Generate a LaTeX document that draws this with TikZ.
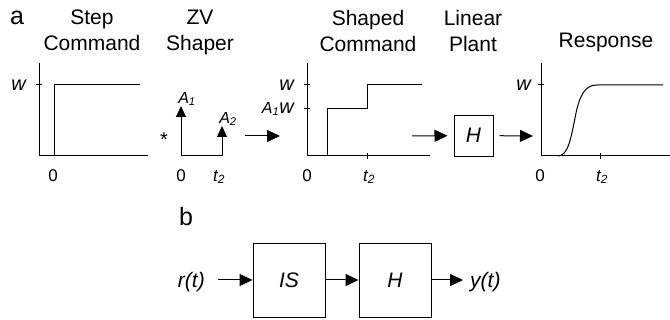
\documentclass[tikz,border=0pt]{standalone}
\usepackage{fontspec}
\setmainfont{Liberation Sans}
\usetikzlibrary{arrows.meta}

\tikzset{
  curve/.style={line width=1pt},
  tic/.style={line width=1pt},
  ttl/.style={font=\fontsize{21}{26}\selectfont, align=center, anchor=north, inner sep=0pt},
  num/.style={font=\fontsize{17}{17}\selectfont, inner sep=0pt},
  ital/.style={font=\fontsize{17}{17}\selectfont\itshape, inner sep=0pt},
  wlbl/.style={font=\fontsize{20}{20}\selectfont\itshape, anchor=east, inner sep=0pt},
  imp/.style={line width=1pt, -{Triangle[length=11pt,width=10pt]}},
  flow/.style={line width=1pt, -{Triangle[length=13pt,width=12pt]}},
  blk/.style={draw, line width=0.9pt, font=\fontsize{21}{21}\selectfont\itshape},
  sig/.style={font=\fontsize{21}{21}\selectfont\itshape, inner sep=7pt},
  tag/.style={font=\fontsize{25}{25}\selectfont, inner sep=0pt}
}

\begin{document}
\begin{tikzpicture}[x=1pt, y=-1pt]
	\useasboundingbox (0,0) rectangle (670,320);
	% Panel letters
	\node[tag] (taga) at (17,18) {a};
	\node[tag] (tagb) at (186,217) {b};
	% Column titles
	\node[ttl] (ttlstep) at (92,10) {Step\\Command};
	\node[ttl] (ttlzv) at (200,10) {ZV\\Shaper};
	\node[ttl] (ttlshaped) at (368,10) {Shaped\\Command};
	\node[ttl] (ttlplant) at (473,10) {Linear\\Plant};
	\node[ttl] (ttlresp) at (606,33) {Response};
	% Step command
	\draw[curve] (39,63) -- (39,156) -- (148,156);
	\draw[tic] (36,85) -- (42,85);
	\draw[curve] (54,156) -- (54,85) -- (140,85);
	\node[wlbl] (wstep) at (26,85) {w};
	\node[num] (zstep) at (53,176) {0};
	% ZV shaper impulses
	\draw[curve] (181,156) -- (222,156);
	\draw[imp] (181,156) -- (181,106);
	\draw[imp] (222,156) -- (222,126);
	\node[ital, font=\fontsize{16}{16}\selectfont\itshape] (aone) at (187,99) {A\textsubscript{1}};
	\node[ital, font=\fontsize{16}{16}\selectfont\itshape] (atwo) at (228,119) {A\textsubscript{2}};
	\node[num, font=\fontsize{20}{20}\selectfont] (conv) at (164,140) {*};
	\node[num] (zzv) at (181,176) {0};
	\node[ital] (tzv) at (219,177) {t\textsubscript{2}};
	% Shaped command
	\draw[curve] (307,63) -- (307,156) -- (430,156);
	\foreach \y in {85,109}{
		\draw[tic] (304,\y) -- (310,\y);
	}
	\draw[tic] (367,153) -- (367,159);
	\draw[curve] (327,156) -- (327,109) -- (367,109) -- (367,85) -- (422,85);
	\node[wlbl] (wshaped) at (294,85) {w};
	\node[wlbl] (aw) at (294,109) {{\fontsize{16}{16}\selectfont A\textsubscript{1}}w};
	\node[num] (zshaped) at (307,176) {0};
	\node[ital] (tshaped) at (369,177) {t\textsubscript{2}};
	% Linear plant
	\node[blk, minimum width=39pt, minimum height=41pt, inner sep=0pt, outer sep=6.5pt] (hplant) at (473.5,135.5) {H};
	\coordinate (zvout) at (245,136);
	\coordinate (cmdin) at (280,136);
	\coordinate (cmdout) at (412,136);
	\coordinate (respin) at (533,136);
	\draw[flow] (zvout) -- (cmdin);
	\draw[flow] (cmdout) -- (hplant);
	\draw[flow] (hplant) -- (respin);
	% Response
	\draw[curve] (541,63) -- (541,156) -- (670,156);
	\draw[tic] (538,85) -- (544,85);
	\draw[tic] (600,153) -- (600,159);
	\draw[curve] (558,156) .. controls (568,156) and (571,138) .. (575,118)
		.. controls (579,97) and (584,85) .. (597,85) -- (663,85);
	\node[wlbl] (wresp) at (531,85) {w};
	\node[num] (zresp) at (540,176) {0};
	\node[ital] (tresp) at (602,177) {t\textsubscript{2}};
	% Block diagram b
	\node[blk, minimum width=72pt, minimum height=74pt] (is) at (289,280) {IS};
	\node[blk, minimum width=72pt, minimum height=74pt] (hb) at (395,280) {H};
	\node[sig, anchor=east] (rt) at (212,282) {r(t)};
	\node[sig, anchor=west] (yt) at (463,282) {y(t)};
	\draw[flow, shorten <=6pt] (rt.east |- is.west) -- (is);
	\draw[flow] (is) -- (hb);
	\draw[flow] (hb) -- (yt.west |- hb.east);
\end{tikzpicture}
\end{document}
